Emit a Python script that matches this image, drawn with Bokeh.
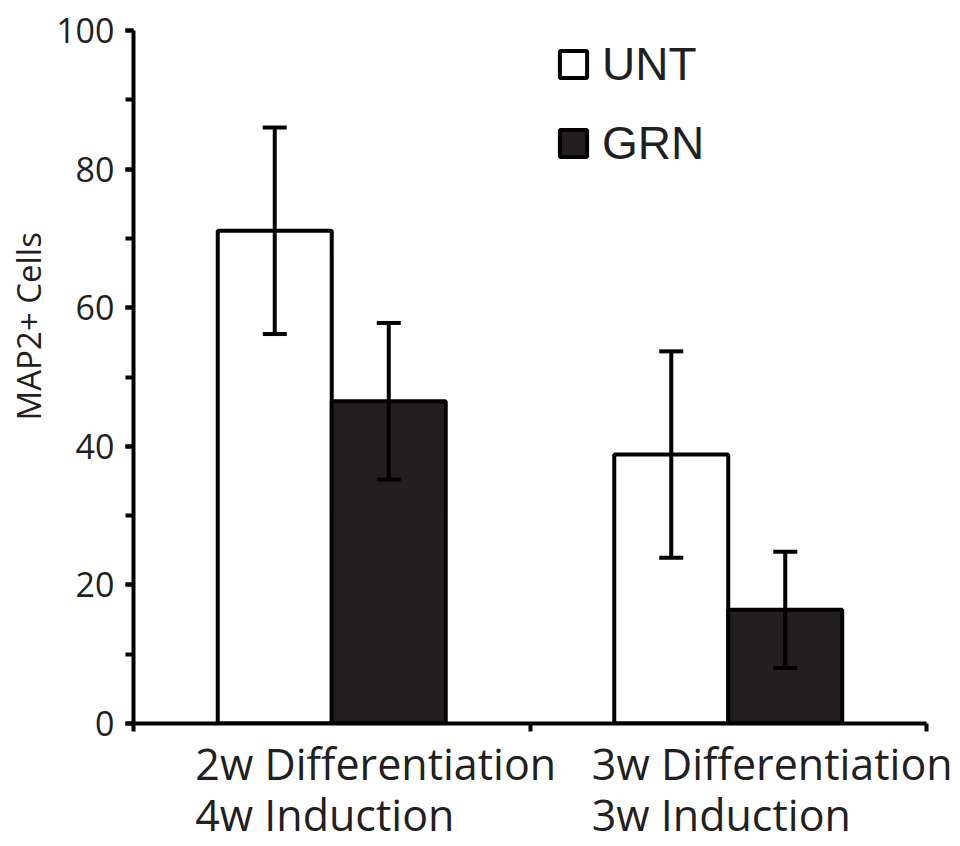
import numpy as np
from bokeh.plotting import figure
from bokeh.models import (Range1d, LinearAxis, FixedTicker, SingleIntervalTicker,
                          Whisker, TeeHead, ColumnDataSource, Legend, LegendItem, Title)
from bokeh.embed import file_html
from bokeh.resources import INLINE

# ---- data ----
group_line1 = ["2w Differentiation", "3w Differentiation"]
group_line2 = ["4w Induction", "3w Induction"]
series = ["UNT", "GRN"]
unt_mean = [71.1, 38.8]
unt_err = [14.9, 14.9]
grn_mean = [46.5, 16.4]
grn_err = [11.3, 8.4]
y_label = "MAP2+ Cells"

# ---- layout helpers ----
group_pos = np.array([1.0, 3.0])
bar_w = 0.575
TXT = "#231f20"

p = figure(width=960, height=846, x_range=Range1d(0, 4), y_range=Range1d(0, 100),
           output_backend="svg", toolbar_location=None,
           min_border_left=131, min_border_right=34, min_border_top=30,
           min_border_bottom=123)
p.outline_line_color = None
p.grid.visible = False
p.background_fill_color = "white"
p.border_fill_color = "white"

src_unt = ColumnDataSource(dict(x=group_pos - bar_w / 2, top=unt_mean,
                                lower=np.array(unt_mean) - np.array(unt_err),
                                upper=np.array(unt_mean) + np.array(unt_err)))
src_grn = ColumnDataSource(dict(x=group_pos + bar_w / 2, top=grn_mean,
                                lower=np.array(grn_mean) - np.array(grn_err),
                                upper=np.array(grn_mean) + np.array(grn_err)))

r_unt = p.vbar(x="x", top="top", bottom=0, width=bar_w, source=src_unt,
               fill_color="white", line_color="black", line_width=4)
r_grn = p.vbar(x="x", top="top", bottom=0, width=bar_w, source=src_grn,
               fill_color="#231f20", line_color="black", line_width=4)

for src in (src_unt, src_grn):
    w = Whisker(base="x", upper="upper", lower="lower", source=src,
                line_color="black", line_width=4, level="overlay",
                upper_head=TeeHead(size=24, line_width=4, line_color="black"),
                lower_head=TeeHead(size=24, line_width=4, line_color="black"))
    p.add_layout(w)

# ---- y axis ----
ya = p.yaxis[0]
ya.ticker = SingleIntervalTicker(interval=20, num_minor_ticks=2)
ya.axis_line_width = 4
ya.axis_line_color = "black"
ya.major_tick_line_width = 4
ya.minor_tick_line_width = 4
ya.major_tick_line_color = "black"
ya.minor_tick_line_color = "black"
ya.major_tick_out = 8
ya.major_tick_in = 0
ya.minor_tick_out = 8
ya.minor_tick_in = 0
ya.major_label_standoff = 11
ya.major_label_text_font = "Open Sans"
ya.major_label_text_font_size = "34px"
ya.major_label_text_color = TXT

p.add_layout(Title(text=y_label, align="left", offset=303, text_font="Open Sans",
                   text_font_size="33px", text_font_style="normal",
                   text_color=TXT, standoff=6), "left")

# ---- x axis: line, group ticks (as minor ticks), first label line ----
l1_pos = [float(v) for v in (group_pos + 0.222)]
l2_pos = [float(v) for v in (group_pos - 0.035)]
xa = p.xaxis[0]
xa.ticker = FixedTicker(ticks=l1_pos, minor_ticks=[0, 2, 4])
xa.major_label_overrides = {k: t for k, t in zip(l1_pos, group_line1)}
xa.axis_line_width = 4
xa.axis_line_color = "black"
xa.major_tick_line_color = None
xa.major_tick_out = 0
xa.major_tick_in = 0
xa.minor_tick_line_width = 4
xa.minor_tick_line_color = "black"
xa.minor_tick_out = 8
xa.minor_tick_in = 0
xa.major_label_standoff = 2
xa.major_label_text_font = "Open Sans"
xa.major_label_text_font_size = "43px"
xa.major_label_text_color = TXT

# ---- second label line ----
xl = LinearAxis(ticker=FixedTicker(ticks=l2_pos),
                major_label_overrides={k: t for k, t in zip(l2_pos, group_line2)},
                axis_line_color=None, major_tick_line_color=None,
                minor_tick_line_color=None, major_tick_out=0, major_tick_in=0,
                major_label_standoff=-11,
                major_label_text_font="Open Sans", major_label_text_font_size="43px",
                major_label_text_color=TXT)
p.add_layout(xl, "below")

# ---- legend ----
legend = Legend(items=[LegendItem(label=series[0], renderers=[r_unt]),
                       LegendItem(label=series[1], renderers=[r_grn])],
                location=(423, 553), glyph_width=34, glyph_height=34,
                label_standoff=12, spacing=25, padding=0, margin=0,
                label_height=50,
                label_text_font="Liberation Sans", label_text_font_size="46px",
                label_text_color=TXT,
                background_fill_alpha=0, border_line_alpha=0)
p.add_layout(legend)

open("out.html", "w").write(file_html(p, INLINE))
